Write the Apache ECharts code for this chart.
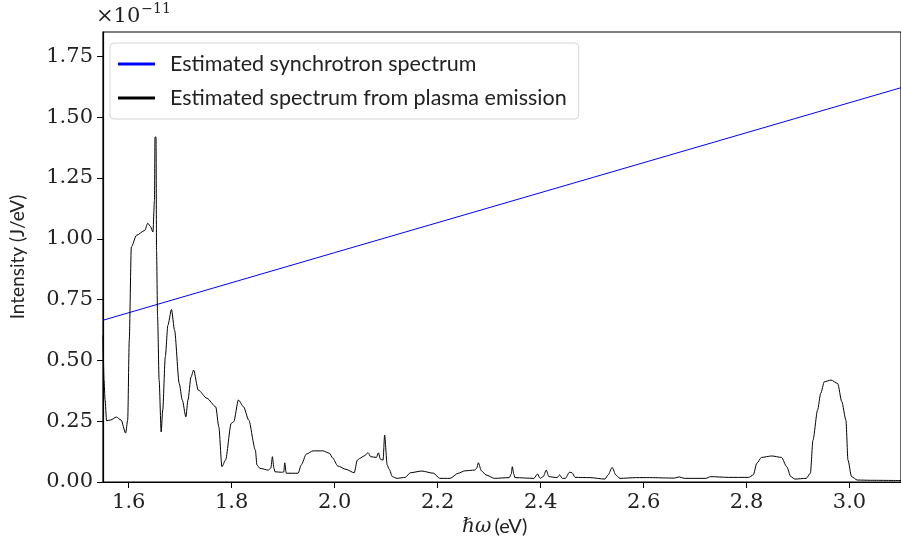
<!DOCTYPE html>
<html>
<head>
<meta charset="utf-8">
<script src="https://cdn.jsdelivr.net/npm/echarts@6/dist/echarts.min.js"></script>
<style>
  html, body { margin: 0; padding: 0; background: #fff; }
  #chart { width: 901px; height: 544px; }
</style>
</head>
<body>
<div id="chart"></div>
<script>
// values in units of 1e-11 J/eV
const plasmaX = [1.550, 1.552, 1.554, 1.557, 1.565, 1.576, 1.585, 1.594, 1.598, 1.601, 1.605, 1.615, 1.631, 1.637, 1.642, 1.647, 1.650, 1.651, 1.653, 1.654, 1.656, 1.659, 1.663, 1.666, 1.671, 1.676, 1.683, 1.689, 1.698, 1.704, 1.711, 1.715, 1.721, 1.726, 1.735, 1.752, 1.769, 1.775, 1.781, 1.788, 1.799, 1.804, 1.813, 1.823, 1.833, 1.846, 1.849, 1.855, 1.871, 1.876, 1.879, 1.882, 1.884, 1.897, 1.901, 1.903, 1.906, 1.929, 1.935, 1.945, 1.958, 1.977, 1.990, 1.996, 2.006, 2.022, 2.038, 2.044, 2.049, 2.057, 2.065, 2.070, 2.081, 2.085, 2.089, 2.094, 2.097, 2.102, 2.106, 2.112, 2.121, 2.137, 2.147, 2.169, 2.192, 2.204, 2.224, 2.240, 2.253, 2.272, 2.276, 2.279, 2.285, 2.294, 2.310, 2.339, 2.343, 2.345, 2.348, 2.350, 2.387, 2.394, 2.399, 2.405, 2.411, 2.416, 2.432, 2.437, 2.442, 2.448, 2.456, 2.461, 2.467, 2.496, 2.525, 2.531, 2.539, 2.546, 2.554, 2.586, 2.612, 2.660, 2.669, 2.679, 2.721, 2.730, 2.765, 2.804, 2.813, 2.820, 2.829, 2.849, 2.868, 2.878, 2.886, 2.894, 2.916, 2.924, 2.929, 2.938, 2.944, 2.951, 2.964, 2.977, 2.985, 2.993, 2.997, 3.004, 3.015, 3.041, 3.100];
const plasmaY = [0.603, 0.419, 0.337, 0.252, 0.255, 0.267, 0.255, 0.201, 0.255, 0.583, 0.966, 1.014, 1.034, 1.064, 1.051, 1.028, 1.158, 1.418, 1.418, 0.952, 0.681, 0.419, 0.206, 0.296, 0.514, 0.644, 0.709, 0.624, 0.406, 0.337, 0.268, 0.337, 0.432, 0.460, 0.378, 0.344, 0.309, 0.227, 0.063, 0.090, 0.241, 0.248, 0.337, 0.309, 0.255, 0.131, 0.070, 0.056, 0.049, 0.057, 0.104, 0.057, 0.042, 0.040, 0.041, 0.079, 0.036, 0.036, 0.070, 0.115, 0.128, 0.128, 0.118, 0.099, 0.066, 0.052, 0.038, 0.090, 0.097, 0.107, 0.120, 0.104, 0.101, 0.120, 0.093, 0.090, 0.193, 0.070, 0.052, 0.022, 0.015, 0.019, 0.038, 0.045, 0.036, 0.015, 0.015, 0.036, 0.046, 0.049, 0.057, 0.079, 0.046, 0.029, 0.015, 0.018, 0.033, 0.063, 0.033, 0.018, 0.015, 0.033, 0.015, 0.022, 0.049, 0.022, 0.018, 0.029, 0.015, 0.015, 0.040, 0.038, 0.019, 0.018, 0.012, 0.029, 0.060, 0.029, 0.015, 0.018, 0.018, 0.016, 0.021, 0.015, 0.015, 0.022, 0.019, 0.019, 0.029, 0.077, 0.101, 0.107, 0.101, 0.063, 0.022, 0.012, 0.015, 0.036, 0.172, 0.296, 0.364, 0.412, 0.419, 0.405, 0.330, 0.255, 0.090, 0.022, 0.008, 0.007, 0.006];

const synchX = [1.55, 2.0, 2.5, 3.1];
const synchY = [0.665, 0.943, 1.251, 1.621];

const xTicks = [1.6, 1.8, 2.0, 2.2, 2.4, 2.6, 2.8, 3.0];
const yTicks = [0, 0.25, 0.5, 0.75, 1.0, 1.25, 1.5, 1.75];

const seriesNames = ['Estimated synchrotron spectrum', 'Estimated spectrum from plasma emission'];

const chart = echarts.init(document.getElementById('chart'));

const option = {
    animation: false,
    backgroundColor: '#ffffff',
    grid: {
        left: 98, top: 32, right: -3, bottom: 62,
        show: true, borderColor: '#000', borderWidth: 1.2
    },
    legend: {
        orient: 'vertical',
        left: 110, top: 43,
        data: seriesNames,
        icon: 'rect',
        itemWidth: 37, itemHeight: 3,
        itemGap: 12,
        padding: [10, 12, 10, 8],
        borderColor: '#d6d6d6', borderWidth: 1, borderRadius: 4,
        backgroundColor: 'rgba(255,255,255,0.8)',
        textStyle: { fontFamily: 'Lato', fontSize: 21.5, color: '#222', padding: [0, 0, 0, 10] }
    },
    xAxis: {
        type: 'value', min: 1.55, max: 3.1,
        axisLine: { onZero: false, lineStyle: { color: '#000', width: 1.2 } },
        axisTick: { show: true, length: 6, lineStyle: { color: '#000' }, customValues: xTicks },
        axisLabel: {
            customValues: xTicks, margin: 10,
            fontFamily: 'DejaVu Serif', fontSize: 21, color: '#222',
            formatter: v => v.toFixed(1)
        },
        splitLine: { show: false }
    },
    yAxis: {
        type: 'value', min: 0, max: 1.85,
        axisLine: { show: true, lineStyle: { color: '#000', width: 1.2 } },
        axisTick: { show: true, length: 6, lineStyle: { color: '#000' }, customValues: yTicks },
        axisLabel: {
            customValues: yTicks, margin: 10,
            fontFamily: 'DejaVu Serif', fontSize: 21, color: '#222',
            formatter: v => v.toFixed(2)
        },
        splitLine: { show: false },
        name: 'Intensity (J/eV)',
        nameLocation: 'middle', nameRotate: 90, nameGap: 76,
        nameTextStyle: { fontFamily: 'Lato', fontSize: 19, color: '#222' }
    },
    graphic: [
        {
            type: 'text', left: 96, top: 2,
            style: {
                text: '{a|×10}{b|−11}',
                rich: {
                    a: { fontFamily: 'DejaVu Serif', fontSize: 21, fill: '#222', padding: [8, 0, 0, 0] },
                    b: { fontFamily: 'DejaVu Serif', fontSize: 14, fill: '#222', padding: [0, 0, 8, 1] }
                }
            }
        },
        {
            type: 'text', left: 462, top: 517,
            style: {
                text: '{m|ℏω} {s|(eV)}',
                rich: {
                    m: { fontFamily: 'DejaVu Serif', fontStyle: 'italic', fontSize: 20, fill: '#222' },
                    s: { fontFamily: 'Lato', fontSize: 20, fill: '#222' }
                }
            }
        }
    ],
    series: [
        {
            name: seriesNames[0],
            type: 'line',
            data: synchX.map((x, i) => [x, synchY[i]]),
            showSymbol: false,
            itemStyle: { color: '#0000ff' },
            lineStyle: { color: '#0000ff', width: 1 }
        },
        {
            name: seriesNames[1],
            type: 'line',
            data: plasmaX.map((x, i) => [x, plasmaY[i]]),
            showSymbol: false,
            smooth: 0.25,
            smoothMonotone: 'x',
            itemStyle: { color: '#000' },
            lineStyle: { color: '#000', width: 1 }
        }
    ]
};

chart.setOption(option);
</script>
</body>
</html>
